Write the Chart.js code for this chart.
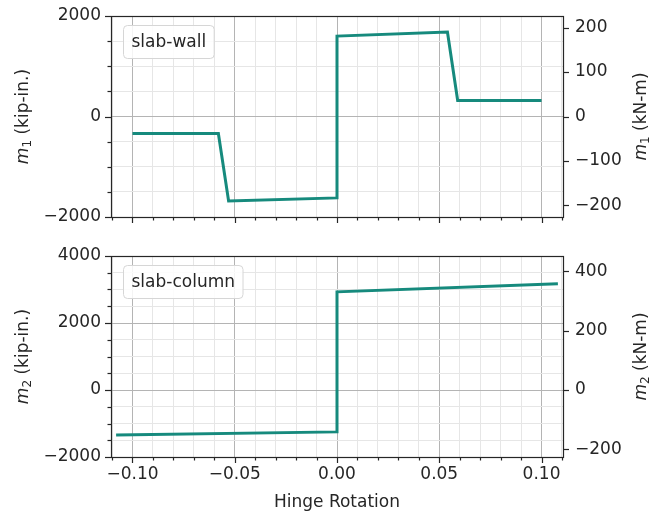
<!DOCTYPE html>
<html>
<head>
<meta charset="utf-8">
<script src="https://cdn.jsdelivr.net/npm/chart.js@4.4.0/dist/chart.umd.min.js"></script>
<style>
  body { margin: 0; background: #fff; }
  #wrap { position: relative; width: 660px; height: 512px; }
  canvas { position: absolute; left: 0; }
</style>
</head>
<body>
<div id="wrap">
  <canvas id="chartWall" width="660" height="240" style="top:0"></canvas>
  <canvas id="chartCol" width="660" height="272" style="top:240px"></canvas>
</div>
<script>
// hinge rotation vs moment, slab-wall and slab-column
var rotWall = [-0.1, -0.058, -0.053, 0.0, 0.0, 0.054, 0.059, 0.1];
var momWall = [-340, -340, -1680, -1620, 1600, 1680, 320, 320];
var rotCol = [-0.108, 0.0, 0.0, 0.108];
var momCol = [-1340, -1250, 2930, 3170];

var xTickLabels = [-0.1, -0.05, 0, 0.05, 0.1];
var wallTicksKip = [-2000, 0, 2000];
var colTicksKip = [-2000, 0, 2000, 4000];
var kipToKNm = 0.113;

var FONT = 'DejaVu Sans';
var FS = 17;
var lineColor = '#168a7d';

function minus(s) { return String(s).replace('-', '\u2212'); }

function isMajorX(v) {
  return xTickLabels.some(function (t) { return Math.abs(t - v) < 1e-6; });
}

function makePoints(xs, ys) {
  return xs.map(function (x, i) { return { x: x, y: ys[i] }; });
}

var framePlugin = {
  id: 'frame',
  afterDraw: function (chart) {
    var c = chart.ctx, a = chart.chartArea, o = chart.options.plugins.frame;
    c.save();
    // tick marks
    c.strokeStyle = '#262626';
    c.lineWidth = 1.2;
    chart.scales.x.ticks.forEach(function (t) {
      var px = Math.round(chart.scales.x.getPixelForValue(t.value)) + 0.5;
      var len = isMajorX(t.value) ? 6 : 3.5;
      c.beginPath(); c.moveTo(px, a.bottom); c.lineTo(px, a.bottom + len); c.stroke();
    });
    chart.scales.y.ticks.forEach(function (t) {
      var py = Math.round(chart.scales.y.getPixelForValue(t.value)) + 0.5;
      var len = o.majorY.indexOf(t.value) >= 0 ? 6 : 3.5;
      c.beginPath(); c.moveTo(a.left, py); c.lineTo(a.left - len, py); c.stroke();
    });
    chart.scales.y2.ticks.forEach(function (t) {
      var py = Math.round(chart.scales.y2.getPixelForValue(t.value)) + 0.5;
      c.beginPath(); c.moveTo(a.right, py); c.lineTo(a.right + 6, py); c.stroke();
    });
    // frame
    c.strokeRect(Math.round(a.left) + 0.5, Math.round(a.top) + 0.5,
      Math.round(a.right - a.left), Math.round(a.bottom - a.top));

    // label box
    c.font = FS + 'px "' + FONT + '"';
    var w = c.measureText(o.label).width;
    c.beginPath();
    c.roundRect(123.5, 25.5, w + 16, 33, 4);
    c.fillStyle = 'rgba(255,255,255,0.85)';
    c.fill();
    c.strokeStyle = '#d6d6d6';
    c.lineWidth = 1;
    c.stroke();
    c.fillStyle = '#262626';
    c.textBaseline = 'middle';
    c.textAlign = 'left';
    c.fillText(o.label, 131.5, 42.5);

    // axis titles with italic m and subscript
    var cy = (a.top + a.bottom) / 2;
    drawYTitle(c, 24, cy, o.sub, '(kip-in.)');
    drawYTitle(c, 642, cy, o.sub, '(kN-m)');

    if (o.xTitle) {
      c.font = FS + 'px "' + FONT + '"';
      c.textAlign = 'center';
      c.textBaseline = 'middle';
      c.fillStyle = '#262626';
      c.fillText(o.xTitle, (a.left + a.right) / 2, 263);
    }
    c.restore();
  }
};

function drawYTitle(c, x, y, sub, unit) {
  var fm = 'italic ' + FS + 'px "' + FONT + '"';
  var fs = Math.round(FS * 0.7) + 'px "' + FONT + '"';
  var fn = FS + 'px "' + FONT + '"';
  c.save();
  c.translate(x, y);
  c.rotate(-Math.PI / 2);
  c.font = fm; var w1 = c.measureText('m').width;
  c.font = fs; var w2 = c.measureText(sub).width;
  c.font = fn; var w3 = c.measureText(' ' + unit).width;
  var sx = -(w1 + w2 + w3) / 2;
  c.fillStyle = '#262626';
  c.textBaseline = 'middle';
  c.textAlign = 'left';
  c.font = fm; c.fillText('m', sx, 0);
  c.font = fs; c.fillText(sub, sx + w1, 4);
  c.font = fn; c.fillText(' ' + unit, sx + w1 + w2, 0);
  c.restore();
}

function noVPad(s) { s.paddingTop = 0; s.paddingBottom = 0; }

function makeChart(id, rot, mom, yMin, yMax, majorY, rightStep, label, sub, showX, xAxisH) {
  return new Chart(document.getElementById(id), {
    type: 'line',
    data: {
      datasets: [{
        data: makePoints(rot, mom),
        borderColor: lineColor,
        borderWidth: 3,
        pointRadius: 0,
        tension: 0,
        fill: false
      }]
    },
    options: {
      responsive: false,
      animation: false,
      layout: { padding: { top: 16, left: 0, right: 0, bottom: 0 } },
      plugins: {
        legend: { display: false },
        tooltip: { enabled: false },
        frame: { label: label, sub: sub, majorY: majorY, xTitle: showX ? 'Hinge Rotation' : null }
      },
      scales: {
        x: {
          type: 'linear',
          min: -0.1105,
          max: 0.1105,
          border: { display: false },
          grid: {
            drawTicks: false,
            color: function (ctx) { return isMajorX(ctx.tick.value) ? '#b4b4b4' : '#e6e6e6'; }
          },
          ticks: {
            stepSize: 0.01,
            includeBounds: false,
            autoSkip: false,
            maxRotation: 0,
            padding: 7,
            color: '#262626',
            font: { family: FONT, size: FS },
            callback: function (v) {
              if (!showX || !isMajorX(v)) return '';
              var r = Math.round(v * 100) / 100;
              if (r === 0) r = 0;
              return minus(r.toFixed(2));
            }
          },
          afterFit: function (s) { s.height = xAxisH; s.paddingLeft = 0; s.paddingRight = 0; }
        },
        y: {
          position: 'left',
          min: yMin,
          max: yMax,
          border: { display: false },
          grid: {
            drawTicks: false,
            color: function (ctx) { return majorY.indexOf(ctx.tick.value) >= 0 ? '#b4b4b4' : '#e6e6e6'; }
          },
          ticks: {
            stepSize: 500,
            autoSkip: false,
            padding: 10,
            color: '#262626',
            font: { family: FONT, size: FS },
            callback: function (v) { return majorY.indexOf(v) >= 0 ? minus(v) : ''; }
          },
          afterFit: function (s) { s.width = 111; noVPad(s); }
        },
        y2: {
          position: 'right',
          min: yMin * kipToKNm,
          max: yMax * kipToKNm,
          border: { display: false },
          grid: { display: false, drawTicks: false },
          ticks: {
            stepSize: rightStep,
            includeBounds: false,
            autoSkip: false,
            padding: 12,
            color: '#262626',
            font: { family: FONT, size: FS },
            callback: function (v) { return minus(v); }
          },
          afterFit: function (s) { s.width = 97; noVPad(s); }
        }
      }
    },
    plugins: [framePlugin]
  });
}

var wallChart = makeChart('chartWall', rotWall, momWall, -2000, 2000, wallTicksKip, 100, 'slab-wall', '1', false, 23);
var colChart = makeChart('chartCol', rotCol, momCol, -2000, 4000, colTicksKip, 200, 'slab-column', '2', true, 55);
</script>
</body>
</html>
